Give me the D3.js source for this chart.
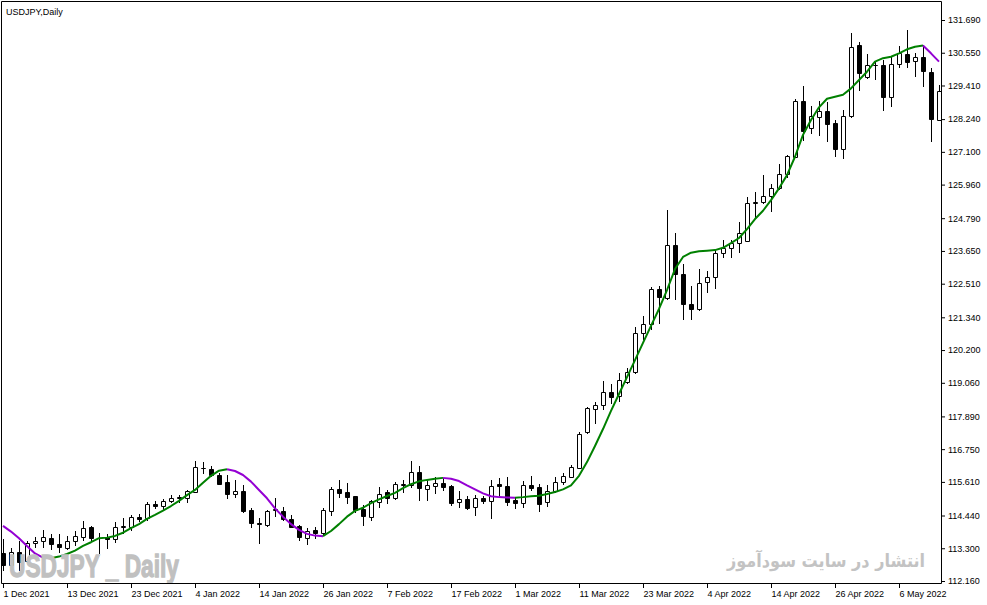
<!DOCTYPE html>
<html>
<head>
<meta charset="utf-8">
<script src="https://cdn.jsdelivr.net/npm/d3@7/dist/d3.min.js"></script>
<style>
  html, body { margin: 0; padding: 0; background: #ffffff; }
  svg { display: block; }
</style>
</head>
<body>
<div id="chart"></div>
<script>
// ---------- DATA ----------
const symbolTitle = "USDJPY,Daily";
const watermarkLeft = "USDJPY _ Daily";
const watermarkRight = "انتشار در سایت سودآموز";

const open = [
113.12,112.72,113.17,112.86,113.48,113.55,113.66,113.45,113.31,113.55,
113.69,114.04,113.66,113.69,113.62,114.04,114.04,114.39,114.35,114.84,
114.77,114.95,115.05,115.05,115.26,116.09,116.06,115.85,115.61,115.19,
115.29,114.63,114.18,114.11,114.63,114.60,114.32,114.07,113.66,113.94,
113.83,114.60,115.36,115.26,115.12,114.67,114.39,114.91,115.26,115.05,
115.50,115.50,115.96,115.36,115.47,115.57,115.47,114.91,115.01,114.74,
115.05,114.95,115.54,115.47,114.98,114.88,115.50,115.43,114.91,115.29,
115.61,115.78,116.09,117.35,118.15,118.29,118.74,118.60,119.09,119.44,
120.79,121.11,122.33,122.01,123.86,122.85,121.80,121.63,122.57,122.74,
123.58,123.75,123.93,124.00,125.32,125.34,125.57,125.84,126.33,126.93,
128.87,127.92,128.32,128.52,128.09,127.19,128.36,130.82,129.70,130.12,
130.12,129.02,130.15,130.51,130.27,130.39,129.89,128.21];

const high = [
113.62,113.31,113.55,113.55,113.69,113.94,113.80,113.80,113.73,113.90,
114.25,114.07,113.83,113.80,114.21,114.35,114.46,114.49,114.91,114.95,
115.01,115.15,115.15,115.33,116.34,116.30,116.16,115.92,115.85,115.68,
115.50,114.70,114.35,114.63,115.05,114.74,114.46,114.11,114.01,114.04,
114.70,115.43,115.68,115.57,115.12,114.81,114.98,115.43,115.33,115.61,
115.68,116.34,116.16,115.68,115.78,115.75,115.50,115.29,115.12,115.15,
115.12,115.68,115.75,115.78,115.05,115.64,115.82,115.54,115.50,115.78,
115.92,116.20,117.35,118.22,118.39,119.12,119.02,119.40,119.58,121.00,
121.39,122.40,122.43,125.08,124.28,123.20,122.43,123.02,122.95,123.68,
124.03,124.03,124.66,125.53,125.71,126.29,125.98,126.68,126.99,128.94,
129.40,128.71,128.88,128.85,128.21,128.56,131.23,130.91,130.50,130.27,
130.30,130.41,130.79,131.34,130.53,130.82,130.01,129.43];

const low = [
112.54,112.65,112.54,112.82,113.34,113.34,113.27,113.17,113.27,113.41,
113.59,113.59,113.14,113.31,113.52,113.83,113.94,114.25,114.28,114.70,
114.63,114.91,114.91,114.91,115.26,115.92,115.82,115.54,115.05,115.08,
114.56,114.04,113.48,114.07,114.42,114.28,114.04,113.59,113.45,113.66,
113.76,114.46,115.08,114.88,114.56,114.11,114.28,114.74,114.88,115.01,
115.26,115.43,114.98,114.98,115.22,115.33,114.81,114.74,114.67,114.46,
114.88,114.35,115.08,114.81,114.70,114.74,115.33,114.60,114.77,115.26,
115.54,115.78,116.09,117.31,117.66,118.15,118.36,118.43,119.05,119.40,
120.59,120.93,121.14,121.98,121.98,121.28,121.28,121.59,122.22,122.36,
123.44,123.44,123.61,124.00,124.84,125.32,125.05,125.81,126.22,126.92,
127.51,127.77,127.69,127.49,126.97,126.90,128.32,129.25,129.66,129.63,
128.56,128.71,130.07,130.07,129.75,129.40,127.49,128.21];

const close = [
112.72,113.17,112.82,113.48,113.55,113.69,113.45,113.34,113.55,113.73,
114.01,113.66,113.67,113.62,114.04,114.06,114.39,114.32,114.84,114.77,
114.95,115.05,115.07,115.29,116.13,116.11,115.85,115.54,115.19,115.29,
114.60,114.18,114.14,114.60,114.65,114.32,114.04,113.69,113.90,113.83,
114.63,115.36,115.22,115.08,114.63,114.42,114.95,115.19,115.05,115.54,
115.52,115.96,115.40,115.50,115.57,115.43,114.88,115.01,114.70,115.05,
114.95,115.47,115.47,114.91,114.88,115.50,115.40,114.84,115.29,115.61,
115.82,116.13,117.28,118.18,118.29,118.74,118.57,119.16,119.44,120.79,
121.11,122.33,122.05,123.86,122.85,121.80,121.63,122.53,122.74,123.58,
123.75,123.93,124.28,125.32,125.34,125.57,125.84,126.33,126.96,128.87,
127.84,128.34,128.52,128.07,127.19,128.36,130.74,129.84,130.12,130.14,
129.02,130.15,130.53,130.24,130.39,129.93,128.25,129.23];

// moving-average line values per bar
const ma = [
114.08,113.88,113.65,113.38,113.12,112.97,112.95,113.01,113.10,113.22,
113.38,113.51,113.65,113.67,113.73,113.84,114.00,114.14,114.32,114.46,
114.61,114.77,114.95,115.15,115.33,115.58,115.82,116.00,116.05,115.99,
115.85,115.62,115.33,115.04,114.69,114.40,114.14,113.94,113.80,113.74,
113.72,113.90,114.14,114.40,114.60,114.71,114.87,115.00,115.12,115.23,
115.39,115.53,115.63,115.68,115.72,115.75,115.72,115.64,115.49,115.35,
115.21,115.11,115.08,115.07,115.06,115.08,115.11,115.13,115.19,115.26,
115.35,115.49,115.82,116.30,116.86,117.45,118.08,118.67,119.26,119.85,
120.45,121.04,121.63,122.29,123.02,123.44,123.59,123.64,123.66,123.68,
123.76,123.92,124.10,124.41,124.76,125.05,125.42,125.83,126.29,126.93,
127.69,128.21,128.65,128.95,129.02,129.09,129.31,129.60,129.89,130.24,
130.36,130.41,130.53,130.67,130.76,130.80,130.53,130.24];

const yTicks = [131.690,130.550,129.410,128.240,127.100,125.960,124.790,123.650,122.510,
                121.340,120.200,119.060,117.890,116.750,115.610,114.440,113.300,112.160];

const xTickIdx    = [0, 8, 16, 24, 32, 40, 48, 56, 64, 72, 80, 88, 96, 104, 112];
const xTickLabels = ["1 Dec 2021","13 Dec 2021","23 Dec 2021","4 Jan 2022","14 Jan 2022",
                     "26 Jan 2022","7 Feb 2022","17 Feb 2022","1 Mar 2022","11 Mar 2022",
                     "23 Mar 2022","4 Apr 2022","14 Apr 2022","26 Apr 2022","6 May 2022"];

// ---------- LAYOUT ----------
const W = 987, H = 605;
const frame = {l: 1, t: 1, r: 941, b: 583};
const axisFont = "'Liberation Sans', Arial, sans-serif";
const upColor = "#008000", downColor = "#9400d3";

const svg = d3.select("#chart").append("svg")
  .attr("width", W).attr("height", H)
  .style("background", "#ffffff");

const x = d3.scaleLinear().domain([0, open.length - 1]).range([3, 939]);
const y = d3.scaleLinear().domain([112.16, 131.69]).range([581, 20]);

svg.append("defs").append("clipPath").attr("id", "plotclip")
  .append("rect").attr("x", frame.l).attr("y", frame.t)
  .attr("width", frame.r - frame.l).attr("height", frame.b - frame.t);

const plot = svg.append("g").attr("clip-path", "url(#plotclip)");

// ---------- CANDLES ----------
const bars = d3.range(open.length).map(i => ({i, o: open[i], h: high[i], l: low[i], c: close[i]}));
const cg = plot.append("g");

cg.selectAll("line.wick").data(bars).join("line")
  .attr("class", "wick")
  .attr("x1", d => Math.round(x(d.i)) + 0.5)
  .attr("x2", d => Math.round(x(d.i)) + 0.5)
  .attr("y1", d => Math.round(y(d.h)))
  .attr("y2", d => Math.round(y(d.l)) + 1)
  .attr("stroke", "#000").attr("stroke-width", 1);

cg.selectAll("path.body").data(bars).join("path")
  .attr("class", "body")
  .attr("d", d => {
    const cx = Math.round(x(d.i));
    const top = Math.round(y(Math.max(d.o, d.c)));
    const bot = Math.round(y(Math.min(d.o, d.c)));
    return `M${cx - 1.5},${top + 0.5}h4v${bot - top}h-4Z`;
  })
  .attr("fill", d => d.c >= d.o ? "#ffffff" : "#000000")
  .attr("stroke", "#000").attr("stroke-width", 1);

// ---------- MOVING AVERAGE (coloured by slope) ----------
const runs = [];
for (let i = 1; i < ma.length; i++) {
  const col = ma[i] > ma[i - 1] ? upColor : downColor;
  if (runs.length && runs[runs.length - 1].col === col) runs[runs.length - 1].pts.push(i);
  else runs.push({col, pts: [i - 1, i]});
}
const maLine = d3.line().x(i => x(i)).y(i => y(ma[i]));
plot.append("g").selectAll("path").data(runs).join("path")
  .attr("d", r => maLine(r.pts))
  .attr("fill", "none")
  .attr("stroke", r => r.col)
  .attr("stroke-width", 2)
  .attr("stroke-linejoin", "round");

// ---------- WATERMARKS ----------
plot.append("text")
  .attr("x", 9).attr("y", 577)
  .attr("font-family", "'Liberation Sans Narrow', 'Liberation Sans', Arial, sans-serif")
  .attr("font-weight", "bold").attr("font-size", 32)
  .attr("textLength", 170).attr("lengthAdjust", "spacingAndGlyphs")
  .attr("fill", "#c0c0c0")
  .attr("stroke", "#c0c0c0").attr("stroke-width", 1.3)
  .text(watermarkLeft);

plot.append("text")
  .attr("x", 826).attr("y", 567)
  .attr("text-anchor", "middle")
  .attr("font-family", "'DejaVu Sans', sans-serif")
  .attr("font-weight", "bold").attr("font-size", 18)
  .attr("textLength", 198).attr("lengthAdjust", "spacingAndGlyphs")
  .attr("fill", "#c3c3c3")
  .text(watermarkRight);

// ---------- FRAME ----------
svg.append("path")
  .attr("d", `M${frame.l + 0.5},${frame.t + 0.5}H${frame.r + 0.5}V${frame.b + 0.5}H${frame.l + 0.5}Z`)
  .attr("fill", "none").attr("stroke", "#000").attr("stroke-width", 1);

// ---------- TITLE ----------
svg.append("text")
  .attr("x", 6).attr("y", 15)
  .attr("font-family", axisFont).attr("font-size", 9)
  .attr("fill", "#000")
  .text(symbolTitle);

// ---------- AXES ----------
const yAxis = d3.axisRight(y).tickValues(yTicks).tickFormat(d3.format(".3f"))
  .tickSizeInner(3).tickSizeOuter(0).tickPadding(3);
const gy = svg.append("g").attr("transform", `translate(${frame.r + 1},0)`).call(yAxis);
gy.select(".domain").remove();
gy.attr("font-family", axisFont).attr("font-size", 9);
gy.selectAll("text").attr("fill", "#000");

const xAxis = d3.axisBottom(x).tickValues(xTickIdx).tickFormat((d, i) => xTickLabels[i])
  .tickSizeInner(4).tickSizeOuter(0).tickPadding(3);
const gx = svg.append("g").attr("transform", `translate(0,${frame.b + 1})`).call(xAxis);
gx.select(".domain").remove();
gx.attr("font-family", axisFont).attr("font-size", 9);
gx.selectAll("text").attr("text-anchor", "start").attr("dx", 0).attr("fill", "#000");
</script>
</body>
</html>
